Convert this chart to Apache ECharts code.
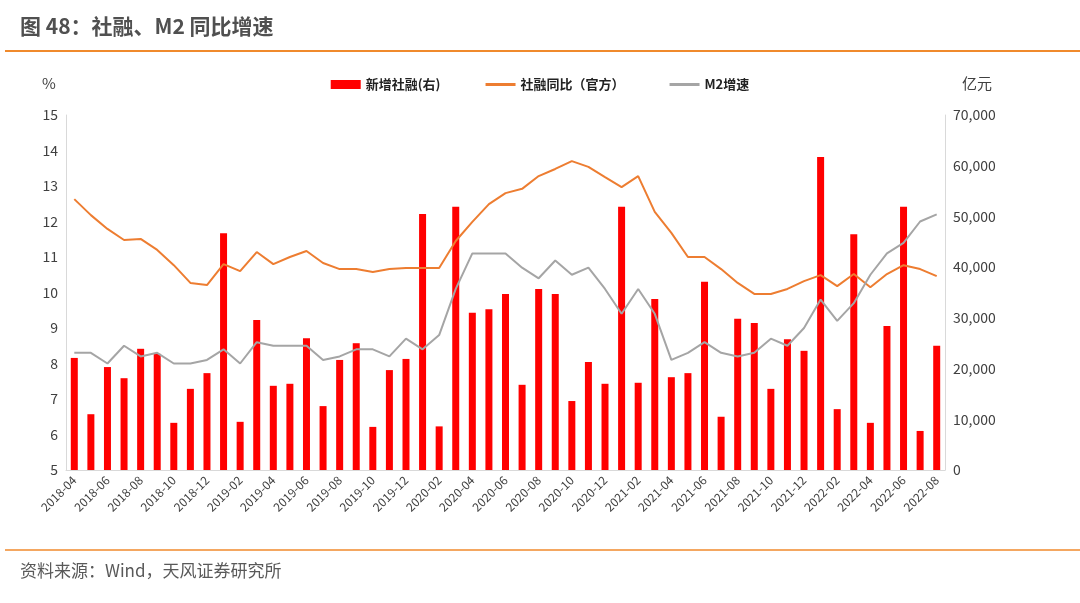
<!DOCTYPE html>
<html><head><meta charset="utf-8">
<script src="https://cdn.jsdelivr.net/npm/echarts@6/dist/echarts.min.js"></script>
<style>html,body{margin:0;padding:0;background:#fff}#c{width:1080px;height:603px}</style>
</head><body><div id="c"></div>
<script>
const months = ["2018-04","2018-05","2018-06","2018-07","2018-08","2018-09","2018-10","2018-11","2018-12","2019-01","2019-02","2019-03","2019-04","2019-05","2019-06","2019-07","2019-08","2019-09","2019-10","2019-11","2019-12","2020-01","2020-02","2020-03","2020-04","2020-05","2020-06","2020-07","2020-08","2020-09","2020-10","2020-11","2020-12","2021-01","2021-02","2021-03","2021-04","2021-05","2021-06","2021-07","2021-08","2021-09","2021-10","2021-11","2021-12","2022-01","2022-02","2022-03","2022-04","2022-05","2022-06","2022-07","2022-08"];
const newTSF = [22100,11000,20300,18100,23900,22900,9300,16000,19100,46700,9500,29600,16600,17000,26000,12600,21700,25000,8500,19700,21900,50500,8600,51900,31000,31700,34700,16800,35700,34700,13600,21300,17000,51900,17200,33700,18300,19100,37100,10500,29800,29000,16000,25800,23500,61700,12000,46500,9300,28400,51900,7700,24500];
const tsfYoY = [12.63,12.18,11.79,11.48,11.51,11.2,10.77,10.27,10.21,10.8,10.6,11.14,10.8,11.0,11.17,10.83,10.66,10.66,10.58,10.66,10.69,10.69,10.69,11.45,11.99,12.49,12.8,12.92,13.28,13.48,13.7,13.54,13.25,12.97,13.28,12.27,11.68,11.0,11.0,10.66,10.27,9.96,9.96,10.1,10.32,10.49,10.18,10.52,10.15,10.52,10.77,10.66,10.46];
const m2YoY = [8.3,8.3,8.0,8.5,8.2,8.3,8.0,8.0,8.1,8.4,8.0,8.6,8.5,8.5,8.5,8.1,8.2,8.4,8.4,8.2,8.7,8.4,8.8,10.1,11.1,11.1,11.1,10.7,10.4,10.9,10.5,10.7,10.1,9.4,10.1,9.4,8.1,8.3,8.6,8.3,8.2,8.3,8.7,8.5,9.0,9.8,9.2,9.7,10.5,11.1,11.4,12.0,12.2];
const chart = echarts.init(document.getElementById('c'));
const F = '"Noto Sans CJK SC","Microsoft YaHei",sans-serif';
const lineIcon = 'path://M0,0H30V3H0Z';
chart.setOption({
  animation:false,
  textStyle:{fontFamily:F},
  graphic:[
    {type:'text',left:20,top:16,style:{text:'图 48：社融、M2 同比增速',font:'bold 21px '+F,fill:'#505050'}},
    {type:'line',shape:{x1:5,y1:51,x2:1080,y2:51},style:{stroke:'#F08A2C',lineWidth:2}},
    {type:'line',shape:{x1:5,y1:550,x2:1080,y2:550},style:{stroke:'#F08A2C',lineWidth:1.5}},
    {type:'text',left:20,top:562,style:{text:'资料来源：Wind，天风证券研究所',font:'17px '+F,fill:'#595959'}},
    {type:'text',left:42,top:76,style:{text:'%',font:'15px '+F,fill:'#404040'}},
    {type:'text',left:962,top:76,style:{text:'亿元',font:'15px '+F,fill:'#404040'}}
  ],
  legend:{top:73,left:'center',itemGap:45,textStyle:{fontSize:13,fontWeight:'bold',color:'#222'},
    data:[{name:'新增社融(右)',icon:'rect'},{name:'社融同比（官方）',icon:lineIcon},{name:'M2增速',icon:lineIcon}],itemWidth:30,itemHeight:9},
  grid:{left:66,right:135,top:115,bottom:133},
  xAxis:{type:'category',data:months,axisTick:{show:false},axisLine:{lineStyle:{color:'#d9d9d9'}},
    axisLabel:{rotate:45,interval:1,color:'#404040',fontSize:12,margin:8}},
  yAxis:[
    {type:'value',min:5,max:15,interval:1,splitLine:{show:false},axisLine:{show:true,lineStyle:{color:'#d9d9d9'}},axisLabel:{color:'#404040',fontSize:14}},
    {type:'value',min:0,max:70000,interval:10000,splitLine:{show:false},axisLine:{show:true,lineStyle:{color:'#d9d9d9'}},
      axisLabel:{color:'#404040',fontSize:14,formatter:v=>v.toLocaleString('en-US')}}
  ],
  series:[
    {name:'新增社融(右)',type:'bar',yAxisIndex:1,data:newTSF,barWidth:7,itemStyle:{color:'#FF0000'}},
    {name:'社融同比（官方）',type:'line',data:tsfYoY,symbol:'none',lineStyle:{color:'#ED7D31',width:2},itemStyle:{color:'#ED7D31'}},
    {name:'M2增速',type:'line',data:m2YoY,symbol:'none',lineStyle:{color:'#A5A5A5',width:2},itemStyle:{color:'#A5A5A5'}}
  ]
});
</script></body></html>
